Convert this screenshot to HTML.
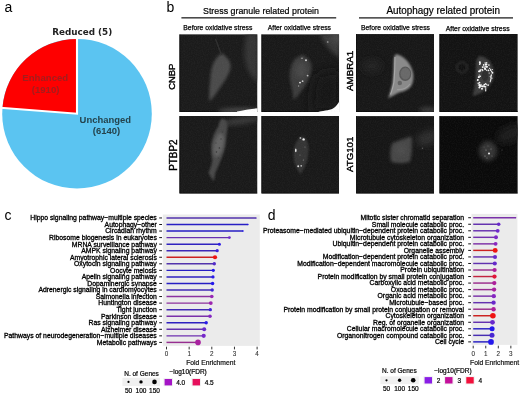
<!DOCTYPE html>
<html lang="en">
<head>
<meta charset="utf-8">
<title>Figure</title>
<style>
html,body{margin:0;padding:0;background:#fff;}
body{width:520px;height:394px;overflow:hidden;}
svg{display:block;}
text{font-family:"Liberation Sans",Arial,sans-serif;fill:#000;}
.lab{font-size:6.83px;stroke:#000;stroke-width:0.3px;}
.ax{font-size:6.3px;fill:#333;stroke:#333;stroke-width:0.1px;}
.fe{font-size:6.75px;fill:#111;stroke:#111;stroke-width:0.2px;}
.leg{font-size:6.5px;fill:#000;stroke:#000;stroke-width:0.2px;}
.pl{font-size:14px;}
.sm{font-size:7.5px;stroke:#000;stroke-width:0.25px;}
.rot{font-size:9.6px;}
.pie{font-weight:bold;text-anchor:middle;}
</style>
</head>
<body>
<svg width="520" height="394" viewBox="0 0 520 394">
<defs>
<filter id="b1" x="-50%" y="-50%" width="200%" height="200%"><feGaussianBlur stdDeviation="1"/></filter>
<filter id="b15" x="-50%" y="-50%" width="200%" height="200%"><feGaussianBlur stdDeviation="1.5"/></filter>
<filter id="b07" x="-50%" y="-50%" width="200%" height="200%"><feGaussianBlur stdDeviation="0.7"/></filter>
<filter id="b2" x="-50%" y="-50%" width="200%" height="200%"><feGaussianBlur stdDeviation="2"/></filter>
<filter id="b3" x="-50%" y="-50%" width="200%" height="200%"><feGaussianBlur stdDeviation="3.5"/></filter>
<filter id="b6" x="-50%" y="-50%" width="200%" height="200%"><feGaussianBlur stdDeviation="6"/></filter>
<filter id="grain" x="0" y="0" width="100%" height="100%" color-interpolation-filters="sRGB"><feTurbulence type="fractalNoise" baseFrequency="0.85" numOctaves="2" seed="4"/><feColorMatrix type="matrix" values="0 0 0 0 0.6  0 0 0 0 0.6  0 0 0 0 0.6  1.6 0 0 0 -0.55"/></filter>
<filter id="b05" x="-50%" y="-50%" width="200%" height="200%"><feGaussianBlur stdDeviation="0.5"/></filter>

<clipPath id="cp1"><rect x="179.4" y="34.15" width="78.1" height="77.95"/></clipPath>
<clipPath id="cp2"><rect x="261.4" y="34.15" width="77.7" height="77.75"/></clipPath>
<clipPath id="cp3"><rect x="179.4" y="116.0" width="78.1" height="77.6"/></clipPath>
<clipPath id="cp4"><rect x="261.4" y="116.0" width="77.7" height="77.6"/></clipPath>
<clipPath id="cp5"><rect x="356.1" y="34.05" width="78.0" height="77.85"/></clipPath>
<clipPath id="cp6"><rect x="439.4" y="33.9" width="78.4" height="78.0"/></clipPath>
<clipPath id="cp7"><rect x="356.1" y="116.1" width="78.0" height="77.5"/></clipPath>
<clipPath id="cp8"><rect x="439.4" y="116.1" width="78.4" height="77.5"/></clipPath>
</defs>
<rect width="520" height="394" fill="#fff"/>
<circle cx="77.0" cy="113.7" r="74.8" fill="#5bc4f1"/>
<path d="M77.0,113.7 L77.0,38.900000000000006 A74.8,74.8 0 0 0 2.42,107.96 Z" fill="#fe0000"/>
<path d="M77.0,36.900000000000006 L77.0,113.7 L0.43,107.81" fill="none" stroke="#fff" stroke-width="2.1" stroke-linejoin="miter"/>
<text class="pie" x="82.2" y="34.7" style="font-family:'DejaVu Sans','Liberation Sans',sans-serif;font-size:8.8px;fill:#222">Reduced (5)</text>
<text class="pie" x="45.3" y="81.2" style="font-size:9.6px;fill:#a31d1d">Enhanced</text>
<text class="pie" x="45.6" y="93.0" style="font-size:9.6px;fill:#a31d1d">(1910)</text>
<text class="pie" x="105.3" y="123.2" style="font-size:9.45px;fill:#24434d">Unchanged</text>
<text class="pie" x="106.5" y="133.9" style="font-size:9.45px;fill:#24434d">(6140)</text>
<text class="pl" x="4.6" y="11.6">a</text>
<text class="pl" x="166.5" y="11.6">b</text>
<text class="pl" x="4.6" y="219.7">c</text>
<text class="pl" x="267.8" y="219.7">d</text>
<text x="203.0" y="14.0" textLength="116.0" lengthAdjust="spacingAndGlyphs" style="font-size:9.2px;stroke:#000;stroke-width:0.2px">Stress granule related protein</text>
<rect x="181.4" y="17.25" width="154.8" height="1.2" fill="#111"/>
<text x="386.4" y="14.1" textLength="113.6" lengthAdjust="spacingAndGlyphs" style="font-size:10.2px;stroke:#000;stroke-width:0.2px">Autophagy related protein</text>
<rect x="359" y="17.3" width="154" height="1.2" fill="#111"/>
<text class="sm" x="183.3" y="29.7" textLength="69.0" lengthAdjust="spacingAndGlyphs">Before oxidative stress</text>
<text class="sm" x="267.7" y="29.7" textLength="63.3" lengthAdjust="spacingAndGlyphs">After oxidative stress</text>
<text class="sm" x="360.9" y="29.7" textLength="69.1" lengthAdjust="spacingAndGlyphs">Before oxidative stress</text>
<text class="sm" x="445.7" y="30.7" textLength="63.9" lengthAdjust="spacingAndGlyphs">After oxidative stress</text>
<text transform="translate(174.8,89.8) rotate(-90)" textLength="26.2" lengthAdjust="spacingAndGlyphs" style="font-size:9.9px;stroke:#000;stroke-width:0.38px">CNBP</text>
<text transform="translate(176.7,170.7) rotate(-90)" textLength="31.1" lengthAdjust="spacingAndGlyphs" style="font-size:10.3px;stroke:#000;stroke-width:0.38px">PTBP2</text>
<text transform="translate(352.6,90.9) rotate(-90)" textLength="40.0" lengthAdjust="spacingAndGlyphs" style="font-size:9.9px;stroke:#000;stroke-width:0.38px">AMBRA1</text>
<text transform="translate(352.6,171.9) rotate(-90)" textLength="35.2" lengthAdjust="spacingAndGlyphs" style="font-size:9.9px;stroke:#000;stroke-width:0.38px">ATG101</text>
<g clip-path="url(#cp1)">
<rect x="179.4" y="34.15" width="78.1" height="77.95" fill="#1b1b1b"/>
<path d="M179.4,34.15 L179.4,112.1 L257.5,112.1" fill="none" stroke="#0a0a0a" stroke-width="1.6"/>

<path d="M246,34 C245,45 243,55 246,64 C248,72 252,78 258,82 L258,34 Z" fill="#363636" filter="url(#b2)"/>
<path d="M221.7,53.3 C226,56 231,61 230.6,66.5 C230,74 224,82 219,89 C216,94 212,99 209.5,101.5 C209,95 209.3,88 210.3,80 C210.8,72 211.8,66 214,62 C216,58 219,55 221.7,53.3 Z" fill="#4b4b4b" filter="url(#b15)"/>
<path d="M215.5,39 L221.5,55" stroke="#2e2e2e" stroke-width="1.4" filter="url(#b05)" fill="none"/>
<ellipse cx="240" cy="111" rx="22" ry="3" fill="#484848" filter="url(#b2)"/>
<path d="M237,111.6 C243,110.4 249,109.2 258,108.3 L258,113 L237,113 Z" fill="#fff" filter="url(#b05)"/>

<rect x="179.4" y="34.15" width="78.1" height="77.95" filter="url(#grain)" opacity="0.09"/>
</g>
<g clip-path="url(#cp2)">
<rect x="261.4" y="34.15" width="77.7" height="77.75" fill="#191919"/>
<path d="M261.4,34.15 L261.4,111.9 L339.09999999999997,111.9" fill="none" stroke="#0a0a0a" stroke-width="1.6"/>

<path d="M320,34 C324,44 331,52 340,58 L340,34 Z" fill="#3c3c3c" filter="url(#b2)"/>
<path d="M330,34 C333,40 336,44 340,47 L340,34 Z" fill="#4a4a4a" filter="url(#b2)"/>
<path d="M316,76 C322,72 332,70 340,72 L340,112 L312,112 C311,100 312,86 316,76 Z" fill="#171717" filter="url(#b6)"/>
<path d="M303,55 C308,57 312,62 311.5,68 C311,76 307,84 302,90 C299,94 296,98 293.5,100 C293,94 292,88 290.5,82 C289,74 290,66 294,60 C297,57 300,55 303,55 Z" fill="#3c3c3c" filter="url(#b15)"/>
<ellipse cx="301" cy="70" rx="5.5" ry="8" fill="#4a4a4a" filter="url(#b2)"/>
<circle cx="306" cy="60.2" r="0.95" fill="#dcdcdc" filter="url(#b05)"/>
<circle cx="302" cy="58.2" r="0.8" fill="#a5a5a5" filter="url(#b05)"/>
<circle cx="307.6" cy="75.6" r="0.9" fill="#bbb" filter="url(#b05)"/>
<circle cx="300" cy="82.6" r="0.95" fill="#e0e0e0" filter="url(#b05)"/>
<circle cx="302.6" cy="81.2" r="0.9" fill="#c8c8c8" filter="url(#b05)"/>
<circle cx="298.6" cy="86" r="0.7" fill="#999" filter="url(#b05)"/>
<circle cx="327.7" cy="42" r="0.9" fill="#8a8a8a" filter="url(#b05)"/>
<path d="M317,112.5 C322,110.2 329,111 333,108.5 C336,106.5 338,104 340,100 L340,113 Z" fill="#fff" filter="url(#b05)"/>

<rect x="261.4" y="34.15" width="77.7" height="77.75" filter="url(#grain)" opacity="0.09"/>
</g>
<g clip-path="url(#cp3)">
<rect x="179.4" y="116.0" width="78.1" height="77.6" fill="#1a1a1a"/>
<path d="M179.4,116.0 L179.4,193.6 L257.5,193.6" fill="none" stroke="#0a0a0a" stroke-width="1.6"/>

<ellipse cx="240" cy="121" rx="20" ry="3.5" fill="#383838" filter="url(#b2)" transform="rotate(-8 240 121)"/>
<path d="M222,118.5 C225,119 227.5,122 227.5,126 C227,132 226,139 225.5,144.5 C224.5,151 222,157 220.4,161 C218.5,166 216.5,170 215.3,173 C214.8,176 214.2,179 213.7,181.5 C212.5,179 210,176 208.5,173 C210,169 211.5,165 212.3,161 C211.5,155 211,150 211.3,144.5 C212.5,137 215,131 218.4,126 C219.5,122.5 220.5,119.5 222,118.5 Z" fill="#484848" filter="url(#b1)"/>
<ellipse cx="218.6" cy="145" rx="4.6" ry="12" fill="#646464" filter="url(#b15)" transform="rotate(12 218.6 145)"/>
<circle cx="219.4" cy="148" r="0.8" fill="#343434"/>
<circle cx="216.4" cy="152" r="0.8" fill="#363636"/>
<circle cx="221" cy="139" r="0.7" fill="#3a3a3a"/>
<circle cx="216" cy="143" r="0.6" fill="#3c3c3c"/>
<circle cx="222.4" cy="132" r="0.7" fill="#3c3c3c"/>
<circle cx="218.6" cy="158" r="0.6" fill="#3c3c3c"/>

<rect x="179.4" y="116.0" width="78.1" height="77.6" filter="url(#grain)" opacity="0.09"/>
</g>
<g clip-path="url(#cp4)">
<rect x="261.4" y="116.0" width="77.7" height="77.6" fill="#191919"/>
<path d="M261.4,116.0 L261.4,193.6 L339.09999999999997,193.6" fill="none" stroke="#0a0a0a" stroke-width="1.6"/>

<path d="M302,136 C307,138 309,144 308.5,152 C308,160 305,168 300.5,174 C297,170 294,164 293.5,156 C293,148 296,139 302,136 Z" fill="#353535" filter="url(#b1)"/>
<circle cx="303.6" cy="139.4" r="1.2" fill="#eee" filter="url(#b05)"/>
<circle cx="300.4" cy="138" r="0.9" fill="#aaa" filter="url(#b05)"/>
<ellipse cx="295.8" cy="150.4" rx="0.8" ry="1.8" fill="#eee" filter="url(#b05)"/>
<circle cx="298.2" cy="166.2" r="0.95" fill="#ddd" filter="url(#b05)"/>
<circle cx="301.2" cy="165.8" r="0.85" fill="#c4c4c4" filter="url(#b05)"/>
<circle cx="303.4" cy="160" r="0.6" fill="#888"/>
<circle cx="300" cy="155" r="0.6" fill="#777"/>
<circle cx="305" cy="147" r="0.6" fill="#777"/>

<rect x="261.4" y="116.0" width="77.7" height="77.6" filter="url(#grain)" opacity="0.09"/>
</g>
<g clip-path="url(#cp5)">
<rect x="356.1" y="34.05" width="78.0" height="77.85" fill="#171717"/>
<path d="M356.1,34.05 L356.1,111.89999999999999 L434.1,111.89999999999999" fill="none" stroke="#0a0a0a" stroke-width="1.6"/>

<ellipse cx="428" cy="110" rx="9" ry="3" fill="#3a3a3a" filter="url(#b2)"/>
<ellipse cx="372" cy="66" rx="10" ry="7" fill="#222" filter="url(#b3)"/>
<path d="M396,54.2 C399.5,54.6 403,56.8 405.5,59.2 C409,62.5 412.4,68 413.2,73.5 C413.8,78 413.2,82.5 411.2,86 C408.4,89.8 404.2,91.6 400,92.2 C396,93.8 392,96.4 388.2,98.2 C389.8,93.4 391.4,88 392.4,83 C393.4,77 393.4,68 393.7,60 C393.9,57 394.8,54.8 396,54.2 Z" fill="#8a8a8a" filter="url(#b1)"/>
<ellipse cx="405.2" cy="73.8" rx="6.1" ry="7.2" fill="#585858" filter="url(#b05)"/>
<ellipse cx="405.4" cy="73.6" rx="4.8" ry="5.9" fill="#696969" filter="url(#b05)"/>
<circle cx="399.8" cy="83" r="2.2" fill="#646464" filter="url(#b05)"/>
<path d="M395,57 C395,66 394.6,74 394,82 C393,87 392,91 390.5,94.5" stroke="#a8a8a8" stroke-width="1.2" fill="none" filter="url(#b07)"/>
<path d="M397,89.5 C402,90 407,88 410,84" stroke="#9c9c9c" stroke-width="1.2" fill="none" filter="url(#b07)"/>

<rect x="356.1" y="34.05" width="78.0" height="77.85" filter="url(#grain)" opacity="0.09"/>
</g>
<g clip-path="url(#cp6)">
<rect x="439.4" y="33.9" width="78.4" height="78.0" fill="#131313"/>
<path d="M439.4,33.9 L439.4,111.9 L517.8,111.9" fill="none" stroke="#0a0a0a" stroke-width="1.6"/>

<circle cx="462" cy="67.4" r="5.2" fill="none" stroke="#282828" stroke-width="2" filter="url(#b1)"/>
<path d="M480.2,56 C484,56.5 487,58.5 489.5,61 C492,64.5 494,69 494,73.5 C494,77.5 493,81 490.8,84 C488,88 484.5,91 481,93 C478,94.5 475,95.5 472.5,96 C474,91 475,85 475.5,79 C475.8,73 475.8,66 476.3,61 C477,58 478.5,56.2 480.2,56 Z" fill="#3d3d3d" filter="url(#b1)"/>
<ellipse cx="485" cy="76" rx="3.2" ry="5.4" fill="#2e2e2e" filter="url(#b07)"/>
<g filter="url(#b05)"><circle cx="491.2" cy="75.9" r="0.79" fill="#fafafa"/><circle cx="490.9" cy="77.9" r="0.8" fill="#fafafa"/><circle cx="490.8" cy="79.8" r="0.72" fill="#fafafa"/><circle cx="490.3" cy="81.7" r="0.62" fill="#fafafa"/><circle cx="488.1" cy="85.1" r="0.85" fill="#fafafa"/><circle cx="486.3" cy="84.7" r="0.62" fill="#fafafa"/><circle cx="485.7" cy="83.9" r="0.79" fill="#fafafa"/><circle cx="484.2" cy="86.5" r="0.86" fill="#fafafa"/><circle cx="482.6" cy="86.3" r="0.71" fill="#fafafa"/><circle cx="479.9" cy="86.8" r="0.88" fill="#fafafa"/><circle cx="481.0" cy="84.5" r="0.63" fill="#fafafa"/><circle cx="479.3" cy="84.4" r="0.75" fill="#fafafa"/><circle cx="477.5" cy="80.2" r="0.68" fill="#fafafa"/><circle cx="478.1" cy="79.9" r="0.76" fill="#fafafa"/><circle cx="477.7" cy="79.6" r="0.71" fill="#fafafa"/><circle cx="478.7" cy="77.2" r="0.9" fill="#fafafa"/><circle cx="479.2" cy="75.0" r="0.62" fill="#fafafa"/><circle cx="480.5" cy="70.9" r="0.78" fill="#fafafa"/><circle cx="479.1" cy="71.3" r="0.86" fill="#fafafa"/><circle cx="480.9" cy="69.7" r="0.71" fill="#fafafa"/><circle cx="482.7" cy="67.1" r="0.95" fill="#fafafa"/><circle cx="483.7" cy="64.9" r="0.86" fill="#fafafa"/><circle cx="484.1" cy="66.9" r="0.7" fill="#fafafa"/><circle cx="486.7" cy="66.5" r="0.63" fill="#fafafa"/><circle cx="487.1" cy="66.8" r="0.84" fill="#fafafa"/><circle cx="488.9" cy="65.1" r="0.79" fill="#fafafa"/><circle cx="490.6" cy="69.3" r="0.66" fill="#fafafa"/><circle cx="491.6" cy="71.2" r="0.68" fill="#fafafa"/><circle cx="492.4" cy="72.7" r="0.98" fill="#fafafa"/><circle cx="491.4" cy="74.8" r="0.64" fill="#fafafa"/><circle cx="479.9" cy="70.2" r="0.71" fill="#fafafa"/><circle cx="486.5" cy="64.2" r="0.97" fill="#fafafa"/><circle cx="485.5" cy="64.5" r="0.68" fill="#fafafa"/><circle cx="486.7" cy="62.6" r="0.7" fill="#fafafa"/><circle cx="485.1" cy="69.2" r="0.88" fill="#fafafa"/><circle cx="482.3" cy="69.8" r="0.69" fill="#fafafa"/><circle cx="479.7" cy="64.3" r="0.8" fill="#fafafa"/><circle cx="480.1" cy="63.5" r="0.77" fill="#fafafa"/><circle cx="485.2" cy="63.1" r="0.76" fill="#fafafa"/><circle cx="488.4" cy="70.3" r="0.9" fill="#fafafa"/><circle cx="486.4" cy="67.0" r="0.66" fill="#fafafa"/><circle cx="479.9" cy="62.2" r="1.01" fill="#fafafa"/><circle cx="486.5" cy="70.2" r="0.61" fill="#fafafa"/><circle cx="485.9" cy="66.1" r="0.93" fill="#fafafa"/><circle cx="482.7" cy="70.5" r="0.63" fill="#fafafa"/><circle cx="485.0" cy="68.3" r="1.01" fill="#fafafa"/><circle cx="479.5" cy="82.7" r="0.87" fill="#fafafa"/><circle cx="480.2" cy="76.3" r="0.82" fill="#fafafa"/><circle cx="480.1" cy="85.7" r="0.72" fill="#fafafa"/><circle cx="479.7" cy="85.5" r="0.78" fill="#fafafa"/><circle cx="479.1" cy="76.9" r="0.78" fill="#fafafa"/><circle cx="479.1" cy="71.4" r="0.81" fill="#fafafa"/><circle cx="480.5" cy="85.8" r="0.84" fill="#fafafa"/><circle cx="478.2" cy="83.2" r="0.78" fill="#fafafa"/><circle cx="478.4" cy="85.1" r="0.58" fill="#fafafa"/><circle cx="484.3" cy="84.7" r="0.84" fill="#fafafa"/><circle cx="481.8" cy="86.1" r="0.88" fill="#fafafa"/><circle cx="482.0" cy="88.8" r="0.97" fill="#fafafa"/><circle cx="479.8" cy="84.6" r="0.72" fill="#fafafa"/><circle cx="483.6" cy="85.9" r="0.67" fill="#fafafa"/><circle cx="485.7" cy="89.1" r="0.78" fill="#fafafa"/><circle cx="485.5" cy="86.8" r="0.87" fill="#fafafa"/><circle cx="479.3" cy="87.5" r="0.92" fill="#fafafa"/><circle cx="485.7" cy="90.7" r="0.75" fill="#fafafa"/><circle cx="482.7" cy="86.7" r="0.65" fill="#fafafa"/><circle cx="490.5" cy="80.7" r="0.6" fill="#fafafa"/><circle cx="491.9" cy="78.2" r="0.6" fill="#fafafa"/><circle cx="492.3" cy="69.5" r="0.6" fill="#fafafa"/><circle cx="489.2" cy="73.0" r="0.6" fill="#fafafa"/><circle cx="489.6" cy="68.3" r="0.6" fill="#fafafa"/><circle cx="490.2" cy="76.5" r="0.6" fill="#fafafa"/><circle cx="490.5" cy="70.3" r="0.6" fill="#fafafa"/></g>

<rect x="439.4" y="33.9" width="78.4" height="78.0" filter="url(#grain)" opacity="0.09"/>
</g>
<g clip-path="url(#cp7)">
<rect x="356.1" y="116.1" width="78.0" height="77.5" fill="#161616"/>
<path d="M356.1,116.1 L356.1,193.6 L434.1,193.6" fill="none" stroke="#0a0a0a" stroke-width="1.6"/>

<ellipse cx="428" cy="138" rx="12" ry="7" fill="#2d2d2d" filter="url(#b3)" transform="rotate(-20 428 138)"/>
<path d="M392.5,143 C398,141 406,138 411.5,136.5 C412.5,144 412,154 410,161.5 C404,164 396,163.5 391,161.5 C390,155 390,148 392.5,143 Z" fill="#464646" filter="url(#b15)"/>
<ellipse cx="401" cy="150" rx="5" ry="5" fill="#4e4e4e" filter="url(#b2)"/>
<circle cx="422.4" cy="148.2" r="0.7" fill="#5a5a5a"/>

<rect x="356.1" y="116.1" width="78.0" height="77.5" filter="url(#grain)" opacity="0.09"/>
</g>
<g clip-path="url(#cp8)">
<rect x="439.4" y="116.1" width="78.4" height="77.5" fill="#0a0a0a"/>
<path d="M439.4,116.1 L439.4,193.6 L517.8,193.6" fill="none" stroke="#0a0a0a" stroke-width="1.6"/>

<ellipse cx="510" cy="134" rx="14" ry="8" fill="#1c1c1c" filter="url(#b3)" transform="rotate(-25 510 134)"/>
<ellipse cx="488" cy="151" rx="9" ry="10" fill="#363636" filter="url(#b2)"/>
<g filter="url(#b05)"><circle cx="489" cy="153.6" r="1.0" fill="#f0f0f0"/><circle cx="486" cy="150" r="0.6" fill="#999"/><circle cx="491" cy="149" r="0.6" fill="#888"/><circle cx="485" cy="156" r="0.6" fill="#999"/><circle cx="492" cy="156" r="0.5" fill="#777"/><circle cx="488" cy="146" r="0.5" fill="#777"/><circle cx="484" cy="147" r="0.5" fill="#666"/><circle cx="502" cy="150" r="0.5" fill="#555"/><circle cx="487" cy="158" r="0.5" fill="#888"/></g>

<rect x="439.4" y="116.1" width="78.4" height="77.5" filter="url(#grain)" opacity="0.09"/>
</g>
<rect x="162.8" y="214.5" width="97.0" height="131.4" fill="#ebebeb"/>
<rect x="159.2" y="217.45" width="2.8" height="1" fill="#1a1a1a"/>
<line x1="166.5" y1="217.95" x2="256.2" y2="217.95" stroke="#5233ac" stroke-width="1.45"/>
<circle cx="256.2" cy="217.95" r="0.5" fill="#542cc8"/>
<text class="lab" x="156.8" y="220.30" text-anchor="end">Hippo signaling pathway−multiple species</text>
<rect x="159.2" y="224.00" width="2.8" height="1" fill="#1a1a1a"/>
<line x1="166.5" y1="224.50" x2="248.0" y2="224.50" stroke="#271ec3" stroke-width="1.45"/>
<circle cx="248.0" cy="224.50" r="0.7" fill="#2418ec"/>
<text class="lab" x="156.8" y="226.85" text-anchor="end">Autophagy−other</text>
<rect x="159.2" y="230.55" width="2.8" height="1" fill="#1a1a1a"/>
<line x1="166.5" y1="231.05" x2="243.0" y2="231.05" stroke="#271ec3" stroke-width="1.45"/>
<circle cx="243.0" cy="231.05" r="0.8" fill="#2418ec"/>
<text class="lab" x="156.8" y="233.40" text-anchor="end">Circadian rhythm</text>
<rect x="159.2" y="237.10" width="2.8" height="1" fill="#1a1a1a"/>
<line x1="166.5" y1="237.60" x2="229.4" y2="237.60" stroke="#6931b0" stroke-width="1.45"/>
<circle cx="229.4" cy="237.60" r="1.4" fill="#7029cb"/>
<text class="lab" x="156.8" y="239.95" text-anchor="end">Ribosome biogenesis in eukaryotes</text>
<rect x="159.2" y="243.65" width="2.8" height="1" fill="#1a1a1a"/>
<line x1="166.5" y1="244.15" x2="219.4" y2="244.15" stroke="#3022bf" stroke-width="1.45"/>
<circle cx="219.4" cy="244.15" r="1.5" fill="#2e1ce5"/>
<text class="lab" x="156.8" y="246.50" text-anchor="end">MRNA surveillance pathway</text>
<rect x="159.2" y="250.20" width="2.8" height="1" fill="#1a1a1a"/>
<line x1="166.5" y1="250.70" x2="217.2" y2="250.70" stroke="#3d28b8" stroke-width="1.45"/>
<circle cx="217.2" cy="250.70" r="1.6" fill="#3c22da"/>
<text class="lab" x="156.8" y="253.05" text-anchor="end">AMPK signaling pathway</text>
<rect x="159.2" y="256.75" width="2.8" height="1" fill="#1a1a1a"/>
<line x1="166.5" y1="257.25" x2="215.0" y2="257.25" stroke="#cc2221" stroke-width="1.45"/>
<circle cx="215.0" cy="257.25" r="2.1" fill="#ee1412"/>
<text class="lab" x="156.8" y="259.60" text-anchor="end">Amyotrophic lateral sclerosis</text>
<rect x="159.2" y="263.30" width="2.8" height="1" fill="#1a1a1a"/>
<line x1="166.5" y1="263.80" x2="214.3" y2="263.80" stroke="#5233ac" stroke-width="1.45"/>
<circle cx="214.3" cy="263.80" r="1.7" fill="#542cc8"/>
<text class="lab" x="156.8" y="266.15" text-anchor="end">Oxytocin signaling pathway</text>
<rect x="159.2" y="269.85" width="2.8" height="1" fill="#1a1a1a"/>
<line x1="166.5" y1="270.35" x2="213.3" y2="270.35" stroke="#271ec3" stroke-width="1.45"/>
<circle cx="213.3" cy="270.35" r="1.6" fill="#2418ec"/>
<text class="lab" x="156.8" y="272.70" text-anchor="end">Oocyte meiosis</text>
<rect x="159.2" y="276.40" width="2.8" height="1" fill="#1a1a1a"/>
<line x1="166.5" y1="276.90" x2="213.0" y2="276.90" stroke="#2e21c0" stroke-width="1.45"/>
<circle cx="213.0" cy="276.90" r="1.6" fill="#2b1be7"/>
<text class="lab" x="156.8" y="279.25" text-anchor="end">Apelin signaling pathway</text>
<rect x="159.2" y="282.95" width="2.8" height="1" fill="#1a1a1a"/>
<line x1="166.5" y1="283.45" x2="212.6" y2="283.45" stroke="#271ec3" stroke-width="1.45"/>
<circle cx="212.6" cy="283.45" r="1.7" fill="#2418ec"/>
<text class="lab" x="156.8" y="285.80" text-anchor="end">Dopaminergic synapse</text>
<rect x="159.2" y="289.50" width="2.8" height="1" fill="#1a1a1a"/>
<line x1="166.5" y1="290.00" x2="212.2" y2="290.00" stroke="#412ab6" stroke-width="1.45"/>
<circle cx="212.2" cy="290.00" r="1.7" fill="#4124d6"/>
<text class="lab" x="156.8" y="292.35" text-anchor="end">Adrenergic signaling in cardiomyocytes</text>
<rect x="159.2" y="296.05" width="2.8" height="1" fill="#1a1a1a"/>
<line x1="166.5" y1="296.55" x2="211.8" y2="296.55" stroke="#8a31a0" stroke-width="1.45"/>
<circle cx="211.8" cy="296.55" r="1.8" fill="#9826b4"/>
<text class="lab" x="156.8" y="298.90" text-anchor="end">Salmonella infection</text>
<rect x="159.2" y="302.60" width="2.8" height="1" fill="#1a1a1a"/>
<line x1="166.5" y1="303.10" x2="210.8" y2="303.10" stroke="#8d309c" stroke-width="1.45"/>
<circle cx="210.8" cy="303.10" r="1.9" fill="#9c25af"/>
<text class="lab" x="156.8" y="305.45" text-anchor="end">Huntington disease</text>
<rect x="159.2" y="309.15" width="2.8" height="1" fill="#1a1a1a"/>
<line x1="166.5" y1="309.65" x2="210.3" y2="309.65" stroke="#412ab6" stroke-width="1.45"/>
<circle cx="210.3" cy="309.65" r="1.7" fill="#4124d6"/>
<text class="lab" x="156.8" y="312.00" text-anchor="end">Tight junction</text>
<rect x="159.2" y="315.70" width="2.8" height="1" fill="#1a1a1a"/>
<line x1="166.5" y1="316.20" x2="210.0" y2="316.20" stroke="#7a31a9" stroke-width="1.45"/>
<circle cx="210.0" cy="316.20" r="1.8" fill="#8527c1"/>
<text class="lab" x="156.8" y="318.55" text-anchor="end">Parkinson disease</text>
<rect x="159.2" y="322.25" width="2.8" height="1" fill="#1a1a1a"/>
<line x1="166.5" y1="322.75" x2="206.2" y2="322.75" stroke="#2e21c0" stroke-width="1.45"/>
<circle cx="206.2" cy="322.75" r="1.7" fill="#2b1be7"/>
<text class="lab" x="156.8" y="325.10" text-anchor="end">Ras signaling pathway</text>
<rect x="159.2" y="328.80" width="2.8" height="1" fill="#1a1a1a"/>
<line x1="166.5" y1="329.30" x2="204.2" y2="329.30" stroke="#6432af" stroke-width="1.45"/>
<circle cx="204.2" cy="329.30" r="2.0" fill="#6929cb"/>
<text class="lab" x="156.8" y="331.65" text-anchor="end">Alzheimer disease</text>
<rect x="159.2" y="335.35" width="2.8" height="1" fill="#1a1a1a"/>
<line x1="166.5" y1="335.85" x2="203.7" y2="335.85" stroke="#6e31b0" stroke-width="1.45"/>
<circle cx="203.7" cy="335.85" r="2.1" fill="#7628ca"/>
<text class="lab" x="156.8" y="338.20" text-anchor="end">Pathways of neurodegeneration−multiple diseases</text>
<rect x="159.2" y="341.90" width="2.8" height="1" fill="#1a1a1a"/>
<line x1="166.5" y1="342.40" x2="198.0" y2="342.40" stroke="#972e90" stroke-width="1.45"/>
<circle cx="198.0" cy="342.40" r="2.8" fill="#a922a0"/>
<text class="lab" x="156.8" y="344.75" text-anchor="end">Metabolic pathways</text>
<rect x="166.00" y="346.7" width="1" height="2.7" fill="#333"/>
<text class="ax" x="166.50" y="356.2" text-anchor="middle">0</text>
<rect x="188.65" y="346.7" width="1" height="2.7" fill="#333"/>
<text class="ax" x="189.15" y="356.2" text-anchor="middle">1</text>
<rect x="211.30" y="346.7" width="1" height="2.7" fill="#333"/>
<text class="ax" x="211.80" y="356.2" text-anchor="middle">2</text>
<rect x="233.95" y="346.7" width="1" height="2.7" fill="#333"/>
<text class="ax" x="234.45" y="356.2" text-anchor="middle">3</text>
<rect x="256.60" y="346.7" width="1" height="2.7" fill="#333"/>
<text class="ax" x="257.10" y="356.2" text-anchor="middle">4</text>
<text class="fe" x="210.8" y="365.4" text-anchor="middle">Fold Enrichment</text>
<rect x="471.5" y="213.9" width="45.9" height="131.0" fill="#ebebeb"/>
<rect x="468.2" y="217.22" width="2.8" height="1" fill="#1a1a1a"/>
<line x1="473.2" y1="217.72" x2="516.0" y2="217.72" stroke="#7a31a9" stroke-width="1.45"/>
<circle cx="516.0" cy="217.72" r="0.45" fill="#8527c1"/>
<text class="lab" x="464.1" y="220.07" text-anchor="end">Mitotic sister chromatid separation</text>
<rect x="468.2" y="223.75" width="2.8" height="1" fill="#1a1a1a"/>
<line x1="473.2" y1="224.25" x2="498.7" y2="224.25" stroke="#6432af" stroke-width="1.45"/>
<circle cx="498.7" cy="224.25" r="1.75" fill="#6929cb"/>
<text class="lab" x="464.1" y="226.60" text-anchor="end">Small molecule catabolic proc.</text>
<rect x="468.2" y="230.29" width="2.8" height="1" fill="#1a1a1a"/>
<line x1="473.2" y1="230.79" x2="497.7" y2="230.79" stroke="#6731b0" stroke-width="1.45"/>
<circle cx="497.7" cy="230.79" r="1.9" fill="#6e29cb"/>
<text class="lab" x="464.1" y="233.14" text-anchor="end">Proteasome−mediated ubiquitin−dependent protein catabolic proc.</text>
<rect x="468.2" y="236.82" width="2.8" height="1" fill="#1a1a1a"/>
<line x1="473.2" y1="237.32" x2="496.0" y2="237.32" stroke="#7231ae" stroke-width="1.45"/>
<circle cx="496.0" cy="237.32" r="1.95" fill="#7b28c7"/>
<text class="lab" x="464.1" y="239.67" text-anchor="end">Microtubule cytoskeleton organization</text>
<rect x="468.2" y="243.36" width="2.8" height="1" fill="#1a1a1a"/>
<line x1="473.2" y1="243.86" x2="495.6" y2="243.86" stroke="#7e31a7" stroke-width="1.45"/>
<circle cx="495.6" cy="243.86" r="1.95" fill="#8a27be"/>
<text class="lab" x="464.1" y="246.21" text-anchor="end">Ubiquitin−dependent protein catabolic proc.</text>
<rect x="468.2" y="249.89" width="2.8" height="1" fill="#1a1a1a"/>
<line x1="473.2" y1="250.39" x2="495.2" y2="250.39" stroke="#cc2221" stroke-width="1.45"/>
<circle cx="495.2" cy="250.39" r="2.45" fill="#ee1412"/>
<text class="lab" x="464.1" y="252.74" text-anchor="end">Organelle assembly</text>
<rect x="468.2" y="256.43" width="2.8" height="1" fill="#1a1a1a"/>
<line x1="473.2" y1="256.93" x2="495.0" y2="256.93" stroke="#6432af" stroke-width="1.45"/>
<circle cx="495.0" cy="256.93" r="2.05" fill="#6929cb"/>
<text class="lab" x="464.1" y="259.28" text-anchor="end">Modification−dependent protein catabolic proc.</text>
<rect x="468.2" y="262.97" width="2.8" height="1" fill="#1a1a1a"/>
<line x1="473.2" y1="263.47" x2="494.8" y2="263.47" stroke="#6032af" stroke-width="1.45"/>
<circle cx="494.8" cy="263.47" r="2.05" fill="#652aca"/>
<text class="lab" x="464.1" y="265.82" text-anchor="end">Modification−dependent macromolecule catabolic proc.</text>
<rect x="468.2" y="269.50" width="2.8" height="1" fill="#1a1a1a"/>
<line x1="473.2" y1="270.00" x2="494.6" y2="270.00" stroke="#9a2d8c" stroke-width="1.45"/>
<circle cx="494.6" cy="270.00" r="2.1" fill="#ad219a"/>
<text class="lab" x="464.1" y="272.35" text-anchor="end">Protein ubiquitination</text>
<rect x="468.2" y="276.03" width="2.8" height="1" fill="#1a1a1a"/>
<line x1="473.2" y1="276.53" x2="494.5" y2="276.53" stroke="#c22540" stroke-width="1.45"/>
<circle cx="494.5" cy="276.53" r="2.15" fill="#e01639"/>
<text class="lab" x="464.1" y="278.88" text-anchor="end">Protein modification by small protein conjugation</text>
<rect x="468.2" y="282.57" width="2.8" height="1" fill="#1a1a1a"/>
<line x1="473.2" y1="283.07" x2="494.3" y2="283.07" stroke="#9a2d8c" stroke-width="1.45"/>
<circle cx="494.3" cy="283.07" r="2.15" fill="#ad219a"/>
<text class="lab" x="464.1" y="285.42" text-anchor="end">Carboxylic acid metabolic proc.</text>
<rect x="468.2" y="289.11" width="2.8" height="1" fill="#1a1a1a"/>
<line x1="473.2" y1="289.61" x2="494.1" y2="289.61" stroke="#972e90" stroke-width="1.45"/>
<circle cx="494.1" cy="289.61" r="2.15" fill="#a922a0"/>
<text class="lab" x="464.1" y="291.96" text-anchor="end">Oxoacid metabolic proc.</text>
<rect x="468.2" y="295.64" width="2.8" height="1" fill="#1a1a1a"/>
<line x1="473.2" y1="296.14" x2="493.8" y2="296.14" stroke="#7a31a9" stroke-width="1.45"/>
<circle cx="493.8" cy="296.14" r="2.15" fill="#8527c1"/>
<text class="lab" x="464.1" y="298.49" text-anchor="end">Organic acid metabolic proc.</text>
<rect x="468.2" y="302.18" width="2.8" height="1" fill="#1a1a1a"/>
<line x1="473.2" y1="302.68" x2="493.6" y2="302.68" stroke="#6432af" stroke-width="1.45"/>
<circle cx="493.6" cy="302.68" r="2.15" fill="#6929cb"/>
<text class="lab" x="464.1" y="305.03" text-anchor="end">Microtubule−based proc.</text>
<rect x="468.2" y="308.71" width="2.8" height="1" fill="#1a1a1a"/>
<line x1="473.2" y1="309.21" x2="493.6" y2="309.21" stroke="#9a2d8c" stroke-width="1.45"/>
<circle cx="493.6" cy="309.21" r="2.2" fill="#ad219a"/>
<text class="lab" x="464.1" y="311.56" text-anchor="end">Protein modification by small protein conjugation or removal</text>
<rect x="468.2" y="315.25" width="2.8" height="1" fill="#1a1a1a"/>
<line x1="473.2" y1="315.75" x2="492.9" y2="315.75" stroke="#cc2221" stroke-width="1.45"/>
<circle cx="492.9" cy="315.75" r="2.8" fill="#ee1412"/>
<text class="lab" x="464.1" y="318.10" text-anchor="end">Cytoskeleton organization</text>
<rect x="468.2" y="321.78" width="2.8" height="1" fill="#1a1a1a"/>
<line x1="473.2" y1="322.28" x2="492.5" y2="322.28" stroke="#6432af" stroke-width="1.45"/>
<circle cx="492.5" cy="322.28" r="2.4" fill="#6929cb"/>
<text class="lab" x="464.1" y="324.63" text-anchor="end">Reg. of organelle organization</text>
<rect x="468.2" y="328.31" width="2.8" height="1" fill="#1a1a1a"/>
<line x1="473.2" y1="328.81" x2="492.1" y2="328.81" stroke="#271ec3" stroke-width="1.45"/>
<circle cx="492.1" cy="328.81" r="2.5" fill="#2418ec"/>
<text class="lab" x="464.1" y="331.17" text-anchor="end">Cellular macromolecule catabolic proc.</text>
<rect x="468.2" y="334.85" width="2.8" height="1" fill="#1a1a1a"/>
<line x1="473.2" y1="335.35" x2="492.0" y2="335.35" stroke="#472db2" stroke-width="1.45"/>
<circle cx="492.0" cy="335.35" r="2.5" fill="#4827d1"/>
<text class="lab" x="464.1" y="337.70" text-anchor="end">Organonitrogen compound catabolic proc.</text>
<rect x="468.2" y="341.38" width="2.8" height="1" fill="#1a1a1a"/>
<line x1="473.2" y1="341.88" x2="491.0" y2="341.88" stroke="#271ec3" stroke-width="1.45"/>
<circle cx="491.0" cy="341.88" r="2.85" fill="#2418ec"/>
<text class="lab" x="464.1" y="344.24" text-anchor="end">Cell cycle</text>
<rect x="472.70" y="345.7" width="1" height="2.7" fill="#333"/>
<text class="ax" x="473.20" y="355.8" text-anchor="middle">0</text>
<rect x="485.25" y="345.7" width="1" height="2.7" fill="#333"/>
<text class="ax" x="485.75" y="355.8" text-anchor="middle">1</text>
<rect x="497.80" y="345.7" width="1" height="2.7" fill="#333"/>
<text class="ax" x="498.30" y="355.8" text-anchor="middle">2</text>
<rect x="510.35" y="345.7" width="1" height="2.7" fill="#333"/>
<text class="ax" x="510.85" y="355.8" text-anchor="middle">3</text>
<text class="fe" x="494.6" y="365.0" text-anchor="middle">Fold Enrichment</text>
<rect x="122.4" y="377.8" width="37.6" height="8.2" fill="#f0f0f0"/>
<circle cx="128.5" cy="381.90" r="1.1" fill="#000"/>
<text class="leg" x="128.5" y="392.9" text-anchor="middle">50</text>
<circle cx="141.0" cy="381.90" r="1.7" fill="#000"/>
<text class="leg" x="141.0" y="392.9" text-anchor="middle">100</text>
<circle cx="154.5" cy="381.90" r="2.3" fill="#000"/>
<text class="leg" x="154.5" y="392.9" text-anchor="middle">150</text>
<text class="leg" x="124.2" y="375.8">N. of Genes</text>
<text class="leg" x="169.4" y="374.4">−log10(FDR)</text>
<rect x="163.4" y="378" width="9.6" height="8.2" fill="#f0f0f0"/><rect x="191.4" y="378" width="9.6" height="8.2" fill="#f0f0f0"/>
<rect x="164.6" y="379" width="7.4" height="6.4" fill="#a414c6"/>
<text class="leg" x="176.2" y="385">4.0</text>
<rect x="192.6" y="379" width="7.4" height="6.4" fill="#e6105c"/>
<text class="leg" x="204.7" y="385">4.5</text>
<rect x="380.4" y="376.4" width="38.4" height="7.8" fill="#f0f0f0"/>
<circle cx="386.5" cy="380.30" r="1.1" fill="#000"/>
<text class="leg" x="386.5" y="391.4" text-anchor="middle">50</text>
<circle cx="399.6" cy="380.30" r="1.7" fill="#000"/>
<text class="leg" x="399.6" y="391.4" text-anchor="middle">100</text>
<circle cx="413.2" cy="380.30" r="2.3" fill="#000"/>
<text class="leg" x="413.2" y="391.4" text-anchor="middle">150</text>
<text class="leg" x="382.0" y="373.4">N. of Genes</text>
<text class="leg" x="434.2" y="372.6">−log10(FDR)</text>
<rect x="423.4" y="376.2" width="9.6" height="8.2" fill="#f0f0f0"/><rect x="444" y="376.2" width="9.6" height="8.2" fill="#f0f0f0"/><rect x="465.2" y="376.2" width="9.6" height="8.2" fill="#f0f0f0"/>
<rect x="424.6" y="377.1" width="7.4" height="6.4" fill="#8a1ee6"/>
<text class="leg" x="436.8" y="383">2</text>
<rect x="445.1" y="377.1" width="7.4" height="6.4" fill="#c4109c"/>
<text class="leg" x="457.6" y="383">3</text>
<rect x="466.3" y="377.1" width="7.4" height="6.4" fill="#f2103c"/>
<text class="leg" x="478.4" y="383">4</text>
</svg>
</body>
</html>
